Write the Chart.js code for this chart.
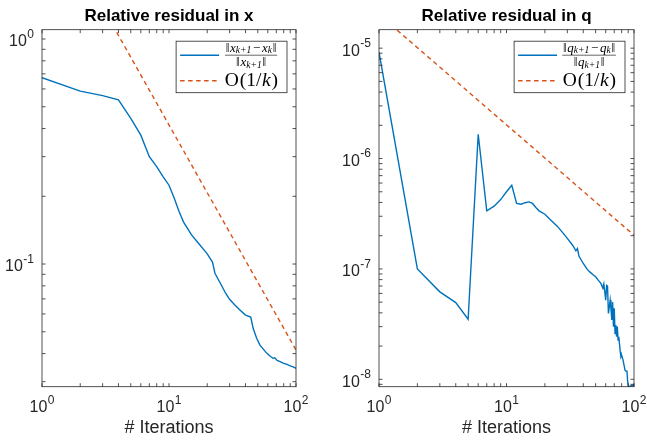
<!DOCTYPE html>
<html>
<head>
<meta charset="utf-8">
<script src="https://cdn.jsdelivr.net/npm/chart.js@4.4.0/dist/chart.umd.min.js"></script>
<style>
  html, body { margin: 0; padding: 0; background: #fff; }
  #quadro { position: relative; width: 647px; height: 443px; }
  canvas { position: absolute; top: 0; }
  #graficoX { left: 0; }
  #graficoQ { left: 323px; }
</style>
</head>
<body>
<div id="quadro">
  <canvas id="graficoX" width="323" height="443"></canvas>
  <canvas id="graficoQ" width="324" height="443"></canvas>
</div>
<script>
// valores
const itersX = [1, 2, 3, 4, 5, 6, 7, 8, 9, 10, 11, 12, 13, 15, 17, 19, 20, 22, 23, 25, 28, 30, 33, 36, 40,
  44, 46, 49, 52, 59, 63, 66, 68, 71, 75, 80, 85, 90, 95, 100];
const residX = [0.673, 0.587, 0.56, 0.537, 0.444, 0.374, 0.300, 0.271, 0.244, 0.224, 0.196, 0.171, 0.154,
  0.135, 0.124, 0.115, 0.111, 0.102, 0.091, 0.0834, 0.074, 0.0697, 0.0657, 0.0627, 0.0593,
  0.0581, 0.0518, 0.0468, 0.0436, 0.0401, 0.0388, 0.0381, 0.0383, 0.0373, 0.0368, 0.0362, 0.0358, 0.0353, 0.0349, 0.0344];

const itersQ = [1, 2, 3, 4, 5, 6, 7, 8, 9, 10, 11, 12, 13, 14, 15, 16, 17, 18, 20, 22, 25, 28, 30, 33, 35, 36, 37,
  40, 43, 45, 48, 50, 52, 55, 57, 58, 59, 60, 61, 62, 63, 64, 65, 66, 67, 68, 69, 70, 71, 72, 73, 74, 75, 76,
  78, 79, 80, 82, 84, 85, 86, 87, 88, 89, 90, 91, 92, 95, 100];
const residQ = [9.2e-6, 1.0e-7, 6.2e-8, 4.95e-8, 3.5e-8, 1.66e-6, 3.36e-7, 3.7e-7, 4.25e-7, 5.0e-7, 5.73e-7,
  3.92e-7, 3.86e-7, 3.98e-7, 4.05e-7, 3.92e-7, 3.6e-7, 3.36e-7, 3.13e-7, 2.8e-7, 2.44e-7, 2.09e-7, 1.89e-7,
  1.64e-7, 1.46e-7, 1.53e-7, 1.31e-7, 1.12e-7, 9.9e-8, 9.4e-8, 8.8e-8, 8.5e-8, 8.0e-8, 7.4e-8, 6.7e-8, 7.3e-8,
  6.2e-8, 5.2e-8, 7.1e-8, 7.0e-8, 3.95e-8, 4.5e-8, 5.2e-8, 4.3e-8, 3.45e-8, 5.0e-8, 3.0e-8, 4.4e-8, 2.6e-8,
  3.1e-8, 2.43e-8, 3.0e-8, 2.27e-8, 2.43e-8, 1.78e-8, 1.6e-8, 1.65e-8, 1.5e-8, 1.3e-8, 1.21e-8, 1.21e-8,
  1.18e-8, 1.2e-8, 9.8e-9, 8.8e-9, 8.4e-9, 8.5e-9, 8.8e-9, 8.8e-9];

// reta de referência O(1/k)
const refIters = [1, 100];
const refX = [4.15, 0.0415];
const refQ = [2.02e-5, 2.02e-7];

const limitesX = { min: 0.0285, max: 1.1 };
const limitesQ = { min: 8.57e-9, max: 1.47e-5 };

const AZUL = '#0072BD';
const LARANJA = '#D95319';
const EIXO = '#262626';
const FONTE = "'Liberation Sans', Arial, Helvetica, sans-serif";
const FONTE_MAT = "'Liberation Serif', 'DejaVu Serif', serif";

function pontos(xs, ys) {
  return xs.map((x, i) => ({ x, y: ys[i] }));
}

function potencias(sc) {
  const out = [];
  for (let e = Math.ceil(Math.log10(sc.min) - 1e-9); e <= Math.floor(Math.log10(sc.max) + 1e-9); e++) out.push(e);
  return out;
}

// caixa do eixo com marcas para dentro (estilo MATLAB)
const caixaEixos = {
  id: 'caixaEixos',
  afterDraw(chart) {
    const { ctx, chartArea: a, scales } = chart;
    const L = 3.5;
    ctx.save();
    ctx.strokeStyle = EIXO;
    ctx.lineWidth = 0.8;
    ctx.strokeRect(a.left, a.top, a.right - a.left, a.bottom - a.top);

    const marcas = (sc) => {
      const out = [];
      const e0 = Math.floor(Math.log10(sc.min)), e1 = Math.ceil(Math.log10(sc.max));
      for (let e = e0; e <= e1; e++) {
        for (let m = 1; m <= 9; m++) {
          const v = m * Math.pow(10, e);
          if (v >= sc.min * 0.9999 && v <= sc.max * 1.0001) out.push(sc.getPixelForValue(v));
        }
      }
      return out;
    };
    ctx.beginPath();
    marcas(scales.x).forEach(px => {
      ctx.moveTo(px, a.bottom); ctx.lineTo(px, a.bottom - L);
      ctx.moveTo(px, a.top); ctx.lineTo(px, a.top + L);
    });
    marcas(scales.y).forEach(py => {
      ctx.moveTo(a.left, py); ctx.lineTo(a.left + L, py);
      ctx.moveTo(a.right, py); ctx.lineTo(a.right - L, py);
    });
    ctx.stroke();
    ctx.restore();
  }
};

// rótulos 10^n com expoente sobrescrito
const rotulosPotencia = {
  id: 'rotulosPotencia',
  afterDraw(chart) {
    const { ctx, chartArea: a, scales } = chart;
    const fBase = `16px ${FONTE}`, fExp = `12px ${FONTE}`;
    const medir = (e) => {
      ctx.font = fBase; const wb = ctx.measureText('10').width;
      ctx.font = fExp; const we = ctx.measureText(String(e)).width;
      return { wb, we, w: wb + we + 0.5 };
    };
    const escreve = (e, xEsq, yMeio) => {
      const m = medir(e);
      ctx.font = fBase;
      ctx.fillText('10', xEsq, yMeio);
      ctx.font = fExp;
      ctx.fillText(String(e), xEsq + m.wb + 0.5, yMeio - 7.5);
    };
    ctx.save();
    ctx.fillStyle = EIXO;
    ctx.textBaseline = 'middle';
    ctx.textAlign = 'left';
    potencias(scales.x).forEach(e => {
      const px = scales.x.getPixelForValue(Math.pow(10, e));
      const m = medir(e);
      escreve(e, px - m.w / 2, a.bottom + 21);
    });
    potencias(scales.y).forEach(e => {
      const py = scales.y.getPixelForValue(Math.pow(10, e));
      const m = medir(e);
      escreve(e, a.left - 8 - m.w, py + 3);
    });
    ctx.restore();
  }
};

// desenha texto em pedaços (itálico, subscrito)
function larguraPedacos(ctx, pedacos) {
  return pedacos.reduce((s, p) => {
    ctx.font = `${p.it ? 'italic ' : ''}${p.tam}px ${FONTE_MAT}`;
    return s + ctx.measureText(p.t).width + (p.esp || 0);
  }, 0);
}

function desenhaPedacos(ctx, pedacos, x, y) {
  let cx = x;
  pedacos.forEach(p => {
    ctx.font = `${p.it ? 'italic ' : ''}${p.tam}px ${FONTE_MAT}`;
    ctx.fillText(p.t, cx + (p.esp || 0) / 2, y + (p.dy || 0));
    cx += ctx.measureText(p.t).width + (p.esp || 0);
  });
}

function fracao(v) {
  const T = 13, S = 9.5;
  const num = [
    { t: '‖', tam: T, esp: 1.5 }, { t: v, tam: T, it: true }, { t: 'k+1', tam: S, it: true, dy: 2.5 },
    { t: '−', tam: T, esp: 3.5 }, { t: v, tam: T, it: true }, { t: 'k', tam: S, it: true, dy: 2.5 },
    { t: '‖', tam: T, esp: 1.5 }
  ];
  const den = [
    { t: '‖', tam: T, esp: 1.5 }, { t: v, tam: T, it: true }, { t: 'k+1', tam: S, it: true, dy: 2.5 },
    { t: '‖', tam: T, esp: 1.5 }
  ];
  return { num, den };
}

const ordem = [
  { t: 'O', tam: 19.5, esp: 1.5 }, { t: '(', tam: 19.5 }, { t: '1', tam: 19.5 },
  { t: '/', tam: 19.5 }, { t: 'k', tam: 19.5, it: true, esp: 1.5 }, { t: ')', tam: 19.5 }
];

// legenda com fração, desenhada no canvas
const legendaMatlab = {
  id: 'legendaMatlab',
  afterDraw(chart, args, opts) {
    const { ctx, chartArea: a } = chart;
    const ds = chart.data.datasets;
    const f = fracao(opts.variavel);
    ctx.save();
    ctx.textBaseline = 'middle';
    const wNum = larguraPedacos(ctx, f.num);
    const wDen = larguraPedacos(ctx, f.den);
    const wOrd = larguraPedacos(ctx, ordem);
    const wTxt = Math.max(wNum, wOrd);
    const w = 48 + wTxt + 9, h = 51.5;
    const x0 = a.right - 9 - w, y0 = a.top + 11.5;

    ctx.fillStyle = '#fff';
    ctx.fillRect(x0, y0, w, h);
    ctx.strokeStyle = EIXO;
    ctx.lineWidth = 0.8;
    ctx.strokeRect(x0, y0, w, h);

    // amostras de linha
    [[ds[0], y0 + 14], [ds[1], y0 + 39.5]].forEach(([d, yy]) => {
      ctx.beginPath();
      ctx.strokeStyle = d.borderColor;
      ctx.lineWidth = d.borderWidth;
      ctx.setLineDash(d.borderDash || []);
      ctx.moveTo(x0 + 4, yy);
      ctx.lineTo(x0 + 43, yy);
      ctx.stroke();
    });
    ctx.setLineDash([]);

    ctx.fillStyle = '#000';
    const cx = x0 + 48 + wTxt / 2;
    desenhaPedacos(ctx, f.num, cx - wNum / 2, y0 + 7);
    desenhaPedacos(ctx, f.den, cx - wDen / 2, y0 + 21.5);
    ctx.beginPath();
    ctx.strokeStyle = '#000';
    ctx.lineWidth = 0.6;
    ctx.moveTo(cx - wNum / 2, y0 + 14);
    ctx.lineTo(cx + wNum / 2, y0 + 14);
    ctx.stroke();

    desenhaPedacos(ctx, ordem, x0 + 48, y0 + 39.5);
    ctx.restore();
  }
};

function criarGrafico(id, titulo, iters, resid, ref, limites, variavel, largY, padDir) {
  return new Chart(document.getElementById(id), {
    type: 'line',
    data: {
      datasets: [{
        data: pontos(iters, resid),
        borderColor: AZUL,
        borderWidth: 1.4,
        pointRadius: 0,
        tension: 0
      }, {
        data: pontos(refIters, ref),
        borderColor: LARANJA,
        borderWidth: 1.4,
        borderDash: [4.5, 3.5],
        pointRadius: 0,
        tension: 0
      }]
    },
    options: {
      responsive: false,
      animation: false,
      events: [],
      layout: { padding: { left: 0, right: padDir, top: 0, bottom: 0 } },
      plugins: {
        legend: { display: false },
        tooltip: { enabled: false },
        title: {
          display: true,
          fullSize: false,
          text: titulo,
          color: '#000',
          font: { family: FONTE, size: 17, weight: 'bold' },
          padding: { top: 6, bottom: 3.3 }
        },
        legendaMatlab: { variavel }
      },
      scales: {
        x: {
          type: 'logarithmic',
          min: 1,
          max: 100,
          grid: { display: false, drawTicks: false },
          border: { display: false },
          ticks: { display: false },
          title: {
            display: true, text: '# Iterations', color: EIXO,
            font: { family: FONTE, size: 18 },
            padding: { top: 0, bottom: 4.2 }
          },
          afterFit: s => { s.height = 56.3; }
        },
        y: {
          type: 'logarithmic',
          min: limites.min,
          max: limites.max,
          grid: { display: false, drawTicks: false },
          border: { display: false },
          ticks: { display: false },
          afterFit: s => { s.width = largY; }
        }
      }
    },
    plugins: [caixaEixos, rotulosPotencia, legendaMatlab]
  });
}

const chartX = criarGrafico('graficoX', 'Relative residual in x', itersX, residX, refX, limitesX, 'x', 42, 27);
const chartQ = criarGrafico('graficoQ', 'Relative residual in q', itersQ, residQ, refQ, limitesQ, 'q', 56, 13);
</script>
</body>
</html>
